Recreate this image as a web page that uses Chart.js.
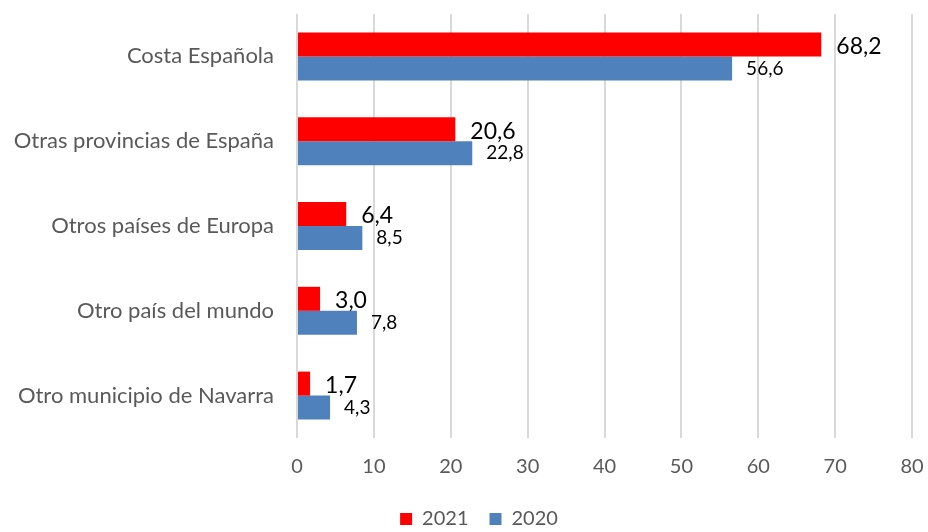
<!DOCTYPE html>
<html>
<head>
<meta charset="utf-8">
<script src="https://cdn.jsdelivr.net/npm/chart.js@4"></script>
<style>
  html, body { margin: 0; padding: 0; background: #fff; }
  #wrap { position: relative; width: 928px; height: 532px; }
</style>
</head>
<body>
<div id="wrap"><canvas id="chart"></canvas></div>
<script>
// categorias y valores (%)
const categorias = [
    'Costa Española',
    'Otras provincias de España',
    'Otros países de Europa',
    'Otro país del mundo',
    'Otro municipio de Navarra'
];
const anios = ['2021', '2020'];
const valores2021 = [68.2, 20.6, 6.4, 3.0, 1.7];
const valores2020 = [56.6, 22.8, 8.5, 7.8, 4.3];
const ticksX = [0, 10, 20, 30, 40, 50, 60, 70, 80];

const fuente = 'Lato, "Open Sans", sans-serif';

// etiquetas de datos al final de cada barra
const etiquetas = {
    id: 'etiquetas',
    afterDatasetsDraw(chart) {
        const ctx = chart.ctx;
        ctx.save();
        ctx.fillStyle = '#000';
        ctx.textBaseline = 'middle';
        ctx.textAlign = 'left';
        chart.data.datasets.forEach(function(ds, i) {
            const meta = chart.getDatasetMeta(i);
            ctx.font = (i === 0 ? '23px ' : '19px ') + fuente;
            meta.data.forEach(function(bar, j) {
                const txt = ds.data[j].toFixed(1).replace('.', ',');
                const dx = i === 0 ? 15 : 14;
                const dy = i === 0 ? 2 : 0;
                ctx.fillText(txt, bar.x + dx, bar.y + dy);
            });
        });
        ctx.restore();
    }
};

// mover la leyenda un poco (centrada como en Excel)
const moverLeyenda = {
    id: 'moverLeyenda',
    afterLayout(chart) {
        const lg = chart.legend;
        lg.left += 23; lg.right += 23;
        lg.top += 7; lg.bottom += 7;
    }
};

new Chart(document.getElementById('chart'), {
    type: 'bar',
    data: {
        labels: categorias,
        datasets: [
            { label: anios[0], data: valores2021, backgroundColor: '#ff0000' },
            { label: anios[1], data: valores2020, backgroundColor: '#4f81bd' }
        ]
    },
    options: {
        indexAxis: 'y',
        responsive: true,
        maintainAspectRatio: false,
        animation: false,
        categoryPercentage: 0.566,
        barPercentage: 1,
        layout: { padding: { left: 0, right: 16, top: 14, bottom: 0 } },
        scales: {
            x: {
                min: 0,
                max: 80,
                afterBuildTicks(axis) {
                    axis.ticks = ticksX.map(function(v) { return { value: v }; });
                },
                afterFit(axis) {
                    axis.height = 43;
                    axis.paddingLeft = 0; axis.paddingRight = 0;
                    axis.paddingTop = 0; axis.paddingBottom = 0;
                },
                grid: { color: '#d9d9d9', lineWidth: 2, drawTicks: false },
                border: { display: false },
                ticks: { color: '#595959', padding: 17, font: { family: fuente, size: 20 } }
            },
            y: {
                afterFit(axis) {
                    axis.width = 297;
                    axis.paddingLeft = 0; axis.paddingRight = 0;
                    axis.paddingTop = 0; axis.paddingBottom = 0;
                },
                grid: { display: false },
                border: { display: false },
                ticks: { color: '#595959', padding: 15, font: { family: fuente, size: 22 } }
            }
        },
        plugins: {
            legend: {
                position: 'bottom',
                labels: {
                    color: '#595959',
                    boxWidth: 12,
                    boxHeight: 12,
                    padding: 21,
                    font: { family: fuente, size: 20 }
                }
            },
            tooltip: { enabled: false }
        }
    },
    plugins: [etiquetas, moverLeyenda]
});
</script>
</body>
</html>
